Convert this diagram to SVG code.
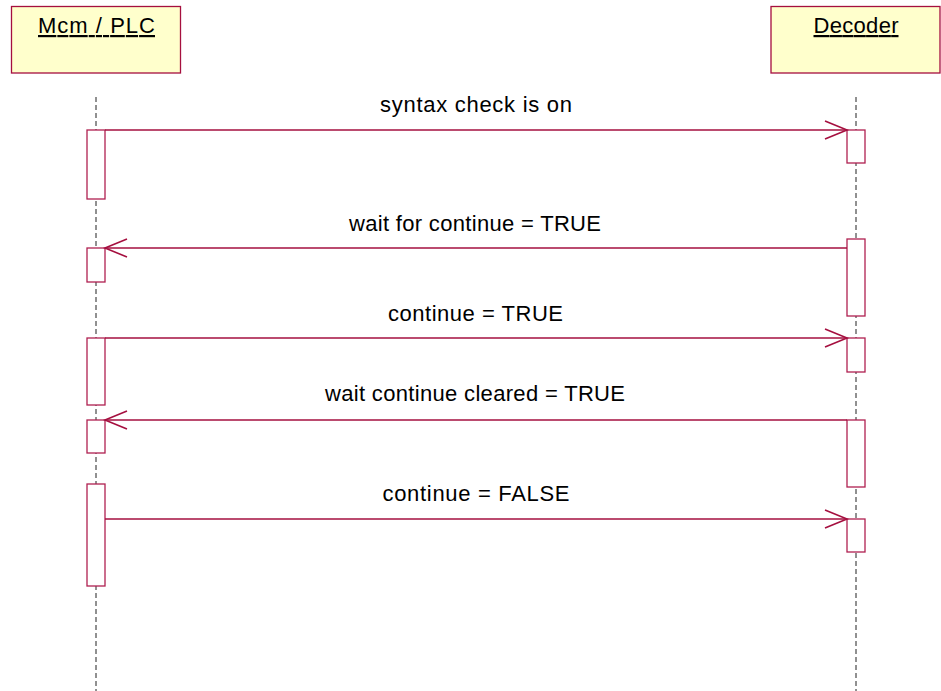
<svg xmlns="http://www.w3.org/2000/svg" width="941" height="691" viewBox="0 0 941 691">
<defs>
<style>
.obj{fill:#FFFFCC;stroke:#A50F3F;stroke-width:1.3}
.ttl{font-family:"Liberation Sans",Arial,sans-serif;font-size:22px;fill:#000;text-anchor:middle;text-decoration:underline}
.life{stroke:#222;stroke-width:1;stroke-dasharray:5,3;fill:none}
.act{fill:#fff;stroke:#B02050;stroke-width:1.3}
.msg{stroke:#A50F3F;stroke-width:1.3;fill:none}
.head{stroke:#A50F3F;stroke-width:1.6;fill:none}
.lbl{font-family:"Liberation Sans",Arial,sans-serif;font-size:22px;fill:#000;text-anchor:middle}
</style>
</defs>
<rect width="941" height="691" fill="#fff"/>
<g id="mcm">
<rect class="obj" x="11.5" y="6.5" width="169" height="66.5"/>
<text class="ttl" x="96.5" y="33" textLength="117" lengthAdjust="spacing">Mcm / PLC</text>
<line class="life" x1="96" y1="97" x2="96" y2="691"/>
<rect class="act" x="87" y="130" width="18" height="69"/>
<rect class="act" x="87" y="248" width="18" height="34"/>
<rect class="act" x="87" y="338" width="18" height="67"/>
<rect class="act" x="87" y="420" width="18" height="33"/>
<rect class="act" x="87" y="484" width="18" height="102"/>
</g>
<g id="decoder">
<rect class="obj" x="771" y="6.5" width="169" height="66.5"/>
<text class="ttl" x="856" y="33" textLength="85" lengthAdjust="spacing">Decoder</text>
<line class="life" x1="856" y1="97" x2="856" y2="691"/>
<rect class="act" x="847" y="130" width="18" height="33"/>
<rect class="act" x="847" y="239" width="18" height="77"/>
<rect class="act" x="847" y="338" width="18" height="34"/>
<rect class="act" x="847" y="420" width="18" height="67"/>
<rect class="act" x="847" y="519" width="18" height="33"/>
</g>
<g id="connectors">
<line class="msg" x1="105" y1="130" x2="847" y2="130"/>
<polyline class="head" points="825,121 847,130 825,139"/>
<text class="lbl" x="476" y="112" textLength="192" lengthAdjust="spacing">syntax check is on</text>
<line class="msg" x1="847" y1="248" x2="105" y2="248"/>
<polyline class="head" points="127,239 105,248 127,257"/>
<text class="lbl" x="475" y="231" textLength="252" lengthAdjust="spacing">wait for continue = TRUE</text>
<line class="msg" x1="105" y1="338" x2="847" y2="338"/>
<polyline class="head" points="825,329 847,338 825,347"/>
<text class="lbl" x="475.5" y="321" textLength="175" lengthAdjust="spacing">continue = TRUE</text>
<line class="msg" x1="847" y1="420" x2="105" y2="420"/>
<polyline class="head" points="127,411 105,420 127,429"/>
<text class="lbl" x="475" y="401" textLength="300" lengthAdjust="spacing">wait continue cleared = TRUE</text>
<line class="msg" x1="105" y1="519" x2="847" y2="519"/>
<polyline class="head" points="825,510 847,519 825,528"/>
<text class="lbl" x="476" y="501" textLength="187" lengthAdjust="spacing">continue = FALSE</text>
</g>
</svg>
